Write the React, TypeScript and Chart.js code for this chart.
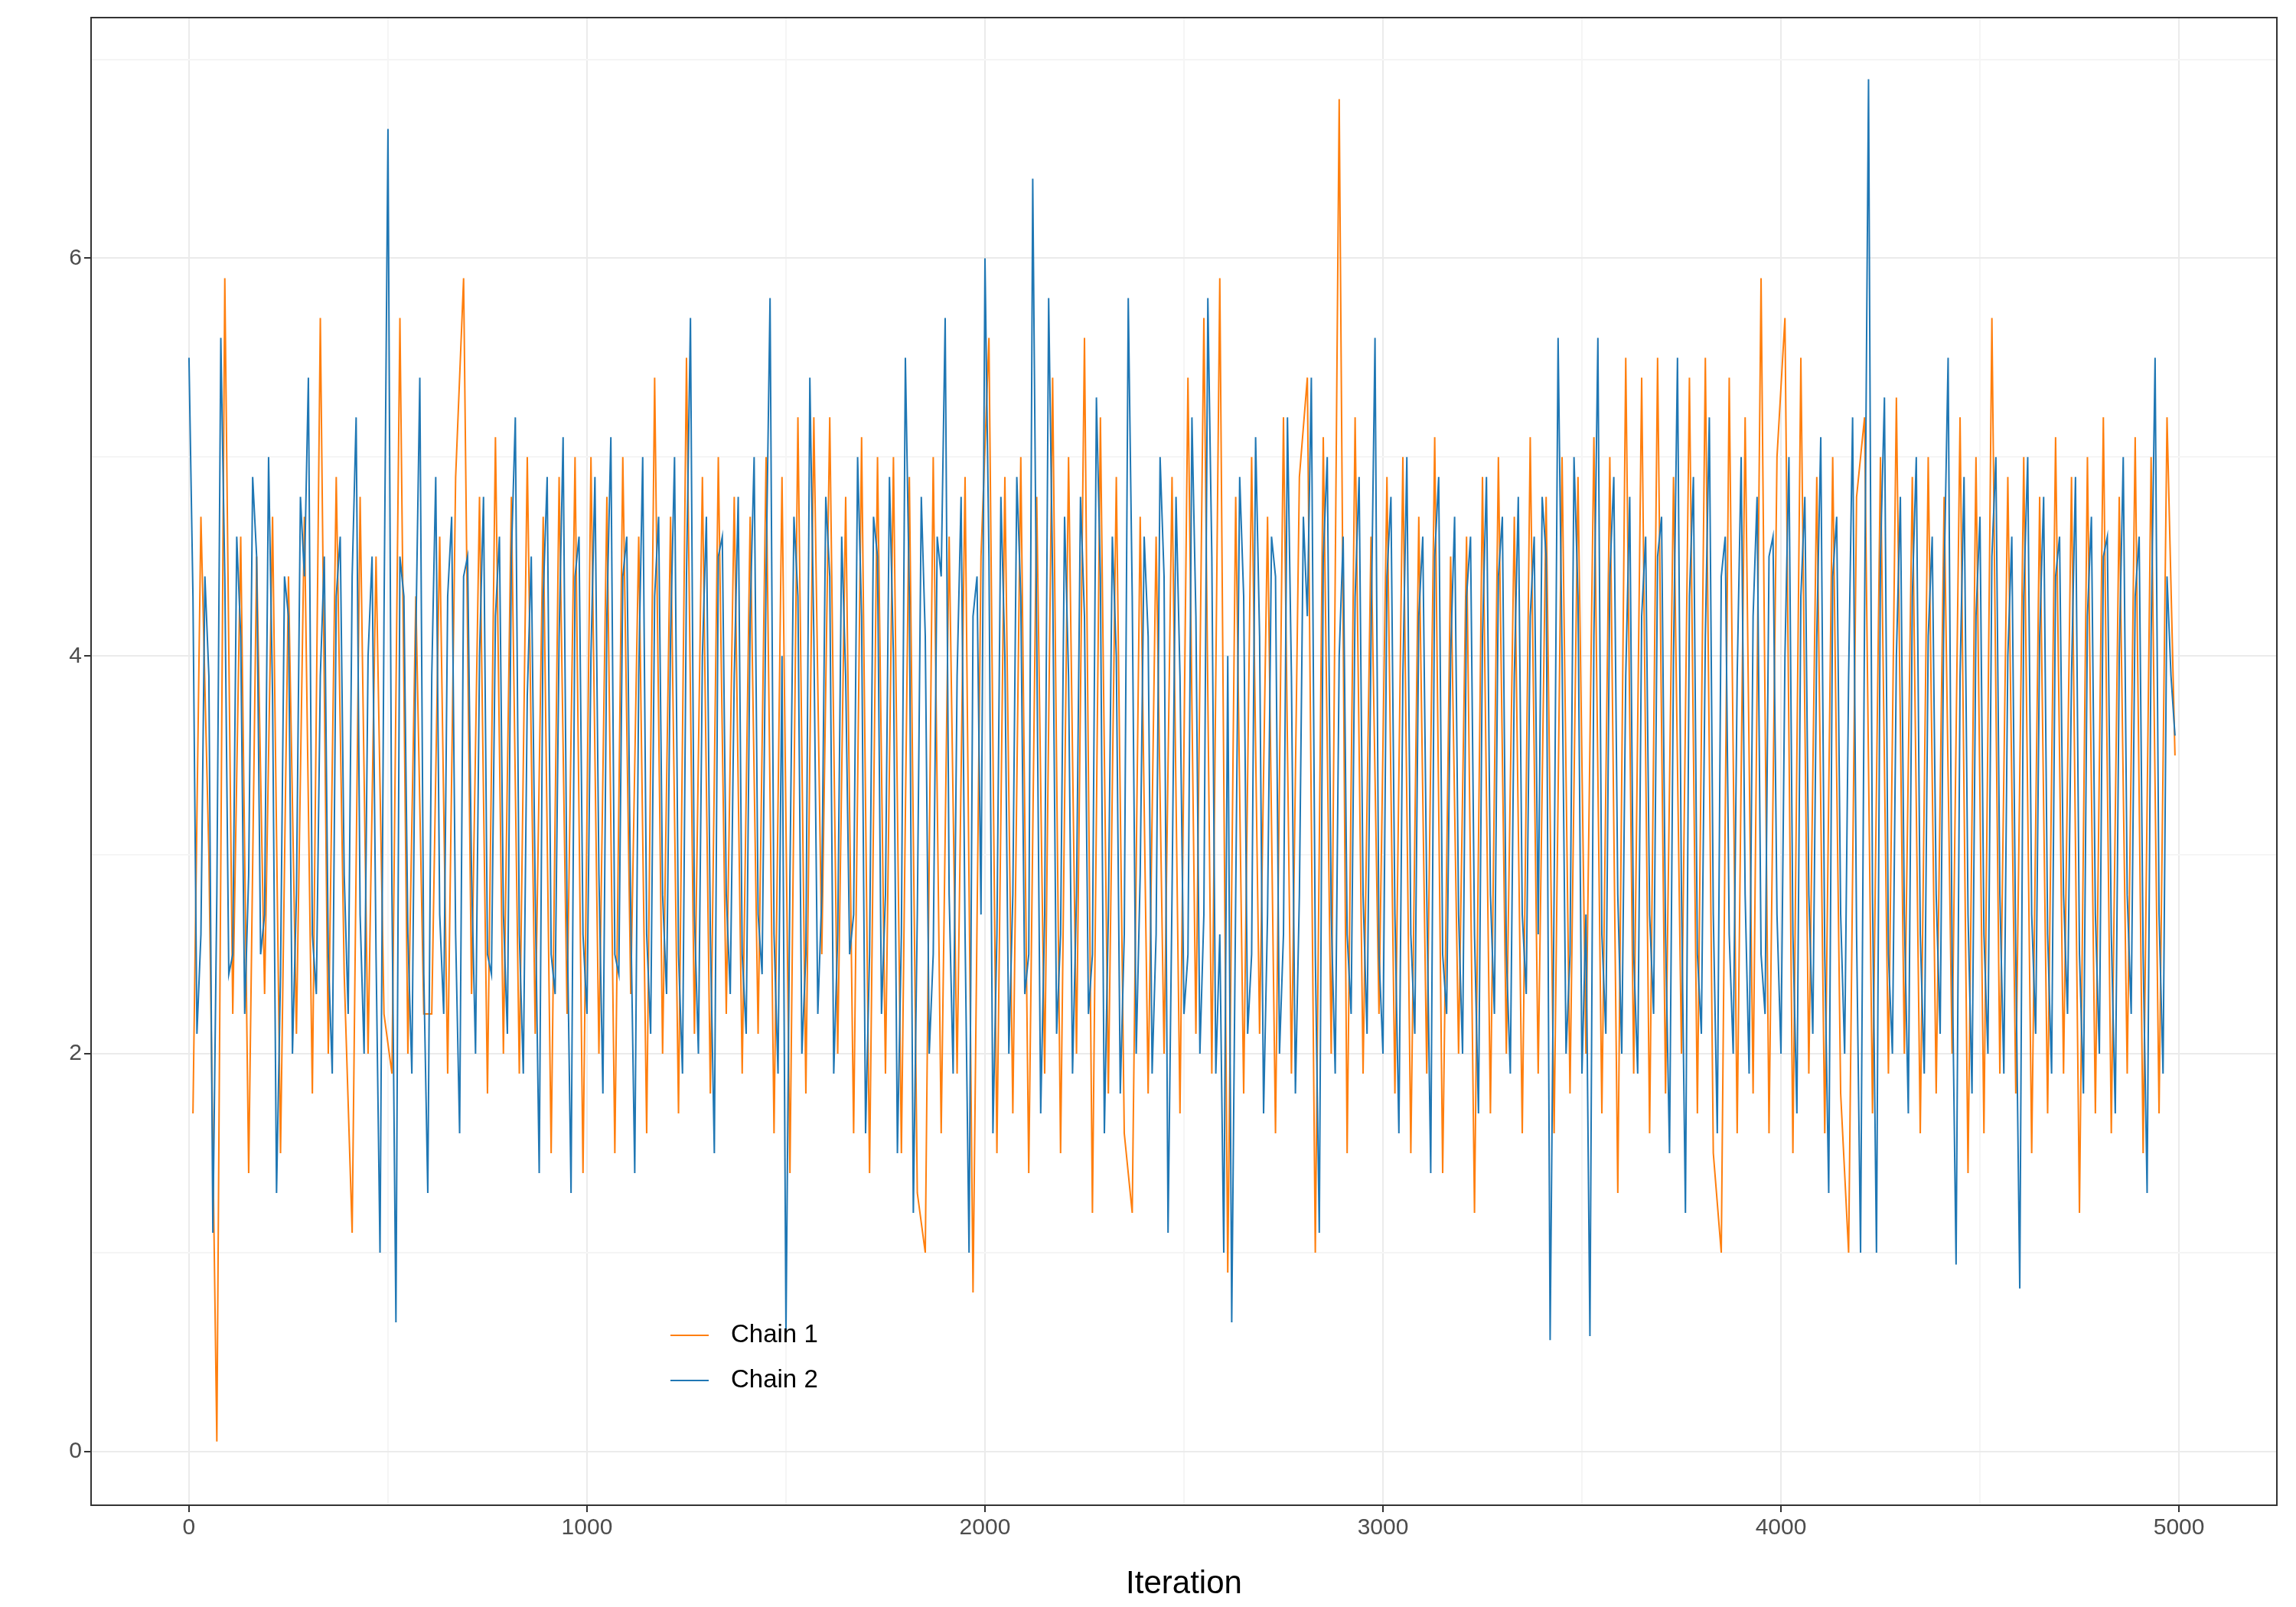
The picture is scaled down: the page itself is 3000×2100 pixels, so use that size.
import React, { useEffect, useRef } from "react";
import { Chart, registerables } from "chart.js";
Chart.register(...registerables);

const STEP = 20;
const chain1 = [
1.7,4.7,3.0,0.05,5.9,2.2,4.6,1.4,4.5,2.3,
4.7,1.5,4.4,2.1,4.7,1.8,5.7,2.0,4.9,2.4,
1.1,4.8,2.0,4.5,2.2,1.9,5.7,2.0,4.3,2.2,
2.2,4.6,1.9,4.9,5.9,2.3,4.8,1.8,5.1,2.0,
4.8,1.9,5.0,2.1,4.7,1.5,4.9,2.2,5.0,1.4,
5.0,2.0,4.8,1.5,5.0,2.3,4.6,1.6,5.4,2.0,
4.7,1.7,5.5,2.1,4.9,1.8,5.0,2.2,4.8,1.9,
4.7,2.1,5.0,1.6,4.9,1.4,5.2,1.8,5.2,2.5,
5.2,2.0,4.8,1.6,5.1,1.4,5.0,1.9,5.0,1.5,
4.9,1.3,1.0,5.0,1.6,4.6,1.9,4.9,0.8,4.5,
5.6,1.5,4.9,1.7,5.0,1.4,4.8,1.9,5.4,1.5,
5.0,2.0,5.6,1.2,5.2,1.8,4.9,1.6,1.2,4.7,
1.8,4.6,2.0,4.9,1.7,5.4,2.1,5.7,1.9,5.9,
0.9,4.8,1.8,5.0,2.1,4.7,1.6,5.2,1.9,4.9,
5.4,1.0,5.1,2.0,6.8,1.5,5.2,1.9,4.6,2.2,
4.9,1.8,5.0,1.5,4.7,1.9,5.1,1.4,4.5,2.0,
4.6,1.2,4.9,1.7,5.0,2.0,4.7,1.6,5.1,1.9,
4.8,1.6,5.0,1.8,4.9,2.0,5.1,1.7,5.0,1.3,
5.5,1.9,5.4,1.6,5.5,1.8,4.9,2.0,5.4,1.7,
5.5,1.5,1.0,5.4,1.6,5.2,1.8,5.9,1.6,5.0,
5.7,1.5,5.5,1.9,4.9,1.6,5.0,1.8,1.0,4.8,
5.2,1.7,5.0,1.9,5.3,2.0,4.9,1.6,5.0,1.8,
4.8,2.0,5.2,1.4,5.0,1.6,5.7,1.9,4.9,1.8,
5.0,1.5,4.8,1.7,5.1,1.9,4.9,1.2,5.0,1.7,
5.2,1.6,4.8,1.9,5.1,1.5,5.0,1.7,5.2,3.5];
// chain 2: extremes at even steps of 20
const chain2Peaks = [
5.5,2.1,4.4,1.1,5.6,2.4,4.6,2.2,4.9,2.5,
5.0,1.3,4.4,2.0,4.8,5.4,2.3,4.5,1.9,4.6,
2.2,5.2,2.0,4.5,1.0,6.65,0.65,4.3,1.9,5.4,
1.3,4.9,2.2,4.7,1.6,4.5,2.0,4.8,2.4,4.6,
2.1,5.2,1.9,4.5,1.4,4.9,2.3,5.1,1.3,4.6,
2.2,4.9,1.8,5.1,2.4,4.6,1.4,5.0,2.1,4.7,
2.3,5.0,1.9,5.7,2.0,4.7,1.5,4.6,2.3,4.8,
2.1,5.0,2.4,5.8,1.9,0.6,4.7,2.0,5.4,2.2,
4.8,1.9,4.6,2.5,5.0,1.6,4.7,2.2,4.9,1.5,
5.5,1.2,4.8,2.0,4.6,5.7,1.9,4.8,1.0,4.4,
6.0,1.6,4.8,2.0,4.9,2.3,6.4,1.7,5.8,2.1,
4.7,1.9,4.8,2.2,5.3,1.6,4.6,1.8,5.8,2.0,
4.6,1.9,5.0,1.1,4.8,2.2,5.2,2.0,5.8,1.9,
1.0,0.65,4.9,2.1,5.1,1.7,4.6,2.0,5.2,1.8,
4.7,5.4,1.1,5.0,1.9,4.6,2.2,4.9,2.1,5.6,
2.0,4.8,1.6,5.0,2.1,4.6,1.4,4.9,2.2,4.7,
2.0,4.6,1.7,4.9,2.2,4.7,1.9,4.8,2.3,4.6,
4.8,0.56,5.6,2.0,5.0,1.9,0.58,5.6,2.1,4.9,
2.0,4.8,1.9,4.6,2.2,4.7,1.5,5.5,1.2,4.9,
2.1,5.2,1.6,4.6,2.0,5.0,1.9,4.8,2.2,4.6,
2.0,5.0,1.7,4.8,2.1,5.1,1.3,4.7,2.0,5.2,
1.0,6.9,1.0,5.3,2.0,4.8,1.7,5.0,1.9,4.6,
2.1,5.5,0.94,4.9,1.8,4.7,2.0,5.0,1.9,4.6,
0.82,5.0,2.1,4.8,1.9,4.6,2.2,4.9,1.8,4.7,
2.0,4.6,1.7,5.0,2.2,4.6,1.3,5.5,1.9,3.9];
// chain 2: core-band values at the odd steps of 10 in between
const chain2Core = [
4.3,2.6,3.9,2.8,4.4,2.5,4.1,2.9,4.5,2.7,
3.8,2.4,4.2,2.8,4.4,2.6,3.9,2.5,4.3,2.9,
4.4,2.7,4.0,2.5,4.2,2.8,4.5,2.6,4.1,2.4,
3.9,2.7,4.3,2.6,4.4,2.9,4.0,2.5,4.2,2.7,
4.5,2.6,3.8,2.8,4.3,2.5,4.1,2.7,4.4,2.6,
4.0,2.9,4.2,2.5,4.4,2.7,3.9,2.6,4.3,2.8,
4.1,2.5,4.4,2.7,4.0,2.6,4.5,2.8,3.9,2.5,
4.2,2.7,4.4,2.6,4.0,2.9,4.3,2.5,4.1,2.8,
4.4,2.6,3.9,2.7,4.2,2.5,4.5,2.8,4.0,2.6,
4.3,2.7,4.1,2.5,4.4,2.8,3.9,2.6,4.2,2.7,
4.5,2.6,4.0,2.8,4.3,2.5,4.1,2.7,4.4,2.6,
3.9,2.8,4.2,2.5,4.4,2.7,4.0,2.6,4.3,2.9,
4.1,2.6,4.4,2.8,3.9,2.5,4.2,2.7,4.5,2.6,
4.0,2.8,4.3,2.5,4.1,2.7,4.4,2.6,3.9,2.8,
4.2,2.5,4.5,2.7,4.0,2.6,4.3,2.8,4.1,2.5,
4.4,2.7,3.9,2.6,4.2,2.8,4.5,2.5,4.0,2.7,
4.3,2.6,4.1,2.8,4.4,2.5,3.9,2.7,4.2,2.6,
4.5,2.8,4.0,2.5,4.3,2.7,4.1,2.6,4.4,2.8,
3.9,2.5,4.2,2.7,4.5,2.6,4.0,2.8,4.3,2.5,
4.1,2.7,4.4,2.6,3.9,2.8,4.2,2.5,4.5,2.7,
4.0,2.6,4.3,2.8,4.1,2.5,4.4,2.7,3.9,2.6,
4.2,2.8,4.5,2.5,4.0,2.7,4.3,2.6,4.1,2.8,
4.4,2.5,3.9,2.7,4.2,2.6,4.5,2.8,4.0,2.5,
4.3,2.7,4.1,2.6,4.4,2.8,3.9,2.5,4.2,2.7,
4.5,2.6,4.0,2.8,4.3,2.5,4.1,2.7,4.4,3.6];
const seriesNames = ["Chain 1", "Chain 2"];
const seriesColors = ["#ff7f0e", "#1f77b4"];

export default function App() {
  const ref = useRef<HTMLCanvasElement>(null);
  useEffect(() => {
    document.body.style.margin = "0";
    const pts1 = chain1.map((v, i) => ({ x: i * STEP + 10, y: v }));
    const pts2: { x: number; y: number }[] = [];
    chain2Peaks.forEach((v, i) => {
      pts2.push({ x: i * STEP, y: v });
      pts2.push({ x: i * STEP + STEP / 2, y: chain2Core[i] });
    });
    const frame = {
      id: "frame",
      afterDraw(c: any) {
        const { ctx, chartArea: a } = c;
        ctx.save();
        ctx.strokeStyle = "#333";
        ctx.lineWidth = 2;
        ctx.strokeRect(a.left, a.top, a.right - a.left, a.bottom - a.top);
        ctx.font = "33px 'Liberation Sans', Arial, sans-serif";
        ctx.textBaseline = "middle";
        [1745, 1804].forEach((y, i) => {
          ctx.strokeStyle = seriesColors[i];
          ctx.lineWidth = 2;
          ctx.beginPath(); ctx.moveTo(876, y); ctx.lineTo(926, y); ctx.stroke();
          ctx.fillStyle = "#000";
          ctx.fillText(seriesNames[i], 955, y);
        });
        ctx.restore();
      },
    };
    const major = (v: number, m: number) => Math.abs(v % m) < 1e-9;
    const chart = new Chart(ref.current!, {
      type: "line",
      data: {
        datasets: [
          { label: seriesNames[1], data: pts2, borderColor: seriesColors[1], borderWidth: 2, pointRadius: 0, order: 0 },
          { label: seriesNames[0], data: pts1, borderColor: seriesColors[0], borderWidth: 2, pointRadius: 0, order: 1 },
        ],
      },
      options: {
        animation: false, responsive: false, devicePixelRatio: 1,
        layout: { padding: { top: 23, right: 25 } },
        plugins: { legend: { display: false }, tooltip: { enabled: false } },
        scales: {
          x: {
            type: "linear", min: -246, max: 5246,
            afterBuildTicks: (s: any) => { s.ticks = [0,500,1000,1500,2000,2500,3000,3500,4000,4500,5000].map(v => ({ value: v })); },
            afterFit: (s: any) => { s.height = 133; },
            ticks: { font: { size: 30, family: "'Liberation Sans', Arial" }, color: "#4d4d4d",
              callback: (v: any) => (major(v, 1000) ? String(v) : "") },
            grid: { color: (c: any) => (major(c.tick.value, 1000) ? "#ebebeb" : "#f5f5f5"), lineWidth: 2,
              tickColor: (c: any) => (major(c.tick.value, 1000) ? "#333" : "rgba(0,0,0,0)"), tickLength: 9 },
            border: { display: false },
            title: { display: true, text: "Iteration", font: { size: 42, family: "'Liberation Sans', Arial" }, color: "#000" },
          },
          y: {
            min: -0.27, max: 7.21,
            afterBuildTicks: (s: any) => { s.ticks = [0,1,2,3,4,5,6,7].map(v => ({ value: v })); },
            afterFit: (s: any) => { s.width = 119; },
            ticks: { font: { size: 30, family: "'Liberation Sans', Arial" }, color: "#4d4d4d",
              callback: (v: any) => (major(v, 2) ? String(v) : "") },
            grid: { color: (c: any) => (major(c.tick.value, 2) ? "#ebebeb" : "#f5f5f5"), lineWidth: 2,
              tickColor: (c: any) => (major(c.tick.value, 2) ? "#333" : "rgba(0,0,0,0)"), tickLength: 9 },
            border: { display: false },
          },
        },
      },
      plugins: [frame],
    } as any);
    return () => chart.destroy();
  }, []);
  return <canvas ref={ref} width={3000} height={2100} style={{ display: "block" }} />;
}
